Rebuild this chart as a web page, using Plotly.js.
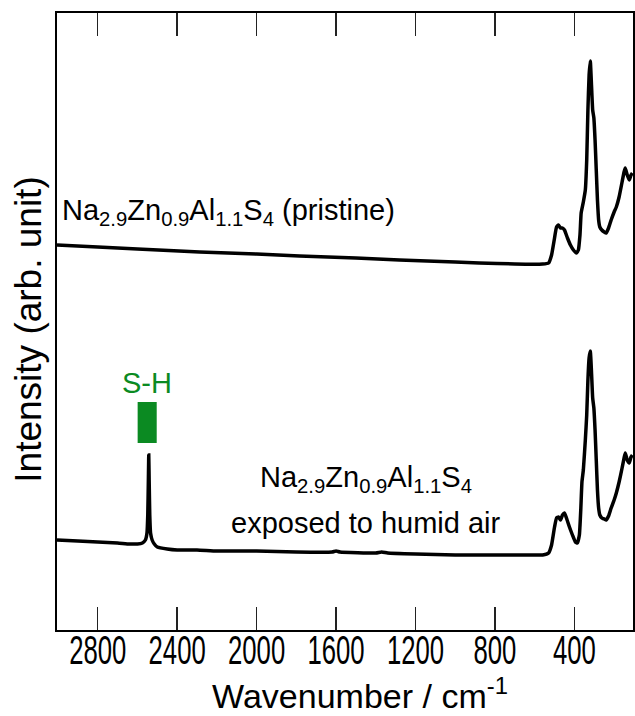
<!DOCTYPE html>
<html>
<head>
<meta charset="utf-8">
<script src="https://cdn.plot.ly/plotly-3.0.1.min.js"></script>
<style>
  html, body { margin: 0; padding: 0; background: #ffffff; }
  #chart { width: 635px; height: 716px; }
</style>
</head>
<body>
<div id="chart"></div>
<script>
// ---- Data ----
// Wavenumber (cm^-1) and intensity (arb. unit) of the pristine sample (upper trace)
const pristineWavenumber = [3005, 2800, 2600, 2287, 2000, 1784, 1500, 1281, 1000, 879, 700, 560, 530, 515, 500, 490, 480, 470, 460, 450, 435, 420, 405, 390, 380, 372, 366, 355, 345, 338, 332, 326, 320, 314, 308, 302, 296, 290, 284, 278, 272, 262, 250, 240, 228, 215, 200, 189, 175, 160, 150, 144, 134, 124, 115, 108];
const pristineIntensity  = [385, 383, 381, 378, 376, 374, 372, 370, 368, 367, 366, 366, 367, 375, 392, 403, 405, 402, 402, 400, 392, 385, 380, 377, 380, 395, 417, 428, 440, 470, 520, 555, 569, 545, 520, 512, 490, 460, 430, 410, 403, 400, 398, 397, 402, 410, 418, 423, 433, 448, 458, 462, 455, 450, 455, 457];

// Sample exposed to humid air (lower trace)
const exposedWavenumber = [3005, 2900, 2800, 2700, 2640, 2600, 2575, 2560, 2552, 2548, 2545, 2543, 2541, 2538, 2534, 2526, 2515, 2500, 2450, 2400, 2300, 2200, 2000, 1800, 1620, 1600, 1580, 1400, 1370, 1340, 1200, 1000, 800, 650, 560, 530, 515, 500, 490, 480, 470, 460, 450, 440, 425, 410, 395, 385, 375, 368, 362, 355, 345, 338, 332, 326, 320, 314, 308, 302, 296, 290, 284, 278, 272, 262, 250, 240, 228, 215, 200, 189, 175, 160, 150, 144, 134, 124, 115, 108];
const exposedIntensity  = [90, 89, 88, 87, 86, 86, 87, 90, 97, 115, 150, 175, 150, 115, 97, 90, 86, 83, 81, 80, 80, 79, 79, 78, 78, 79, 78, 77, 78, 77, 76, 75, 75, 75, 75, 77, 85, 103, 112, 113, 110, 115, 117, 112, 103, 95, 88, 87, 95, 120, 148, 160, 190, 215, 250, 272, 279, 258, 232, 222, 200, 170, 140, 122, 115, 112, 111, 110, 114, 122, 130, 137, 148, 162, 172, 177, 170, 167, 173, 175];

// Axis ticks
const tickValues = [2800, 2400, 2000, 1600, 1200, 800, 400];
const tickLabels = ['2800', '2400', '2000', '1600', '1200', '800', '400'];

// S-H band marker (wavenumber span and intensity span)
const shBand = [2599, 2503];
const shBandIntensity = [187, 228];

// ---- Styling ----
const green = '#0b8a22';
const labelFont = {family: 'Liberation Sans, Arial, sans-serif', size: 29, color: '#000000'};

const traces = [
  {x: pristineWavenumber, y: pristineIntensity, type: 'scatter', mode: 'lines',
   line: {color: '#000000', width: 3.5, shape: 'spline', smoothing: 0.4}, hoverinfo: 'skip'},
  {x: exposedWavenumber, y: exposedIntensity, type: 'scatter', mode: 'lines',
   line: {color: '#000000', width: 3.5, shape: 'spline', smoothing: 0.4}, hoverinfo: 'skip'}
];

const layout = {
  width: 635, height: 716,
  margin: {l: 57, r: 2, t: 13, b: 86, pad: 0},
  paper_bgcolor: '#ffffff', plot_bgcolor: '#ffffff',
  showlegend: false,
  xaxis: {
    range: [3005, 105],
    tickmode: 'array', tickvals: tickValues, ticktext: tickLabels,
    tickangle: 0, ticklabelstandoff: -16,
    ticks: 'inside', ticklen: 23, tickwidth: 1.5, tickcolor: '#222222',
    showline: true, linewidth: 2, linecolor: '#000000', mirror: 'allticks',
    showgrid: false, zeroline: false,
    tickfont: {family: 'Liberation Sans, Arial, sans-serif', size: 40, color: '#000000'},
    title: {text: 'Wavenumber / cm<sup>-1</sup>', standoff: 4,
            font: {family: 'Liberation Sans, Arial, sans-serif', size: 34, color: '#000000'}}
  },
  yaxis: {
    range: [0, 617],
    showticklabels: false, ticks: '',
    showline: true, linewidth: 2, linecolor: '#000000', mirror: true,
    showgrid: false, zeroline: false,
    title: {text: 'Intensity (arb. unit)', standoff: 5,
            font: {family: 'Liberation Sans, Arial, sans-serif', size: 37, color: '#000000'}}
  },
  shapes: [
    {type: 'rect', xref: 'x', yref: 'y', x0: shBand[0], x1: shBand[1],
     y0: shBandIntensity[0], y1: shBandIntensity[1], fillcolor: green, line: {width: 0}}
  ],
  annotations: [
    {text: 'Na<sub>2.9</sub>Zn<sub>0.9</sub>Al<sub>1.1</sub>S<sub>4</sub> (pristine)',
     xref: 'x', yref: 'y', x: 2988, y: 418, xanchor: 'left', yanchor: 'middle',
     showarrow: false, font: labelFont},
    {text: 'Na<sub>2.9</sub>Zn<sub>0.9</sub>Al<sub>1.1</sub>S<sub>4</sub>',
     xref: 'x', yref: 'y', x: 1447, y: 151, xanchor: 'center', yanchor: 'middle',
     showarrow: false, font: labelFont},
    {text: 'exposed to humid air',
     xref: 'x', yref: 'y', x: 1447, y: 107, xanchor: 'center', yanchor: 'middle',
     showarrow: false, font: labelFont},
    {text: 'S-H',
     xref: 'x', yref: 'y', x: 2551, y: 247, xanchor: 'center', yanchor: 'middle',
     showarrow: false, font: {family: 'Liberation Sans, Arial, sans-serif', size: 29, color: green}}
  ]
};

Plotly.newPlot('chart', traces, layout, {staticPlot: true, displayModeBar: false}).then(function (gd) {
  // The reference uses a tall, condensed face for the tick numbers:
  // squeeze each tick label horizontally about its own centre.
  gd.querySelectorAll('.xtick text').forEach(function (t) {
    const bb = t.getBBox();
    if (!bb.width) return;
    const n = (t.textContent || '').length;
    const s = (n * 14.3) / bb.width;
    const cx = bb.x + bb.width / 2;
    const base = t.getAttribute('transform') || '';
    t.setAttribute('transform', base + ' translate(' + cx + ',0) scale(' + s + ',1) translate(' + (-cx) + ',0)');
  });
  // Nudge the axis titles to where the reference places them.
  const shift = function (sel, dx, dy) {
    const g = gd.querySelector(sel);
    if (!g) return;
    g.setAttribute('transform', 'translate(' + dx + ',' + dy + ') ' + (g.getAttribute('transform') || ''));
  };
  shift('.g-xtitle', 15, 0);
  shift('.g-ytitle', 3, 8);
});
</script>
</body>
</html>
